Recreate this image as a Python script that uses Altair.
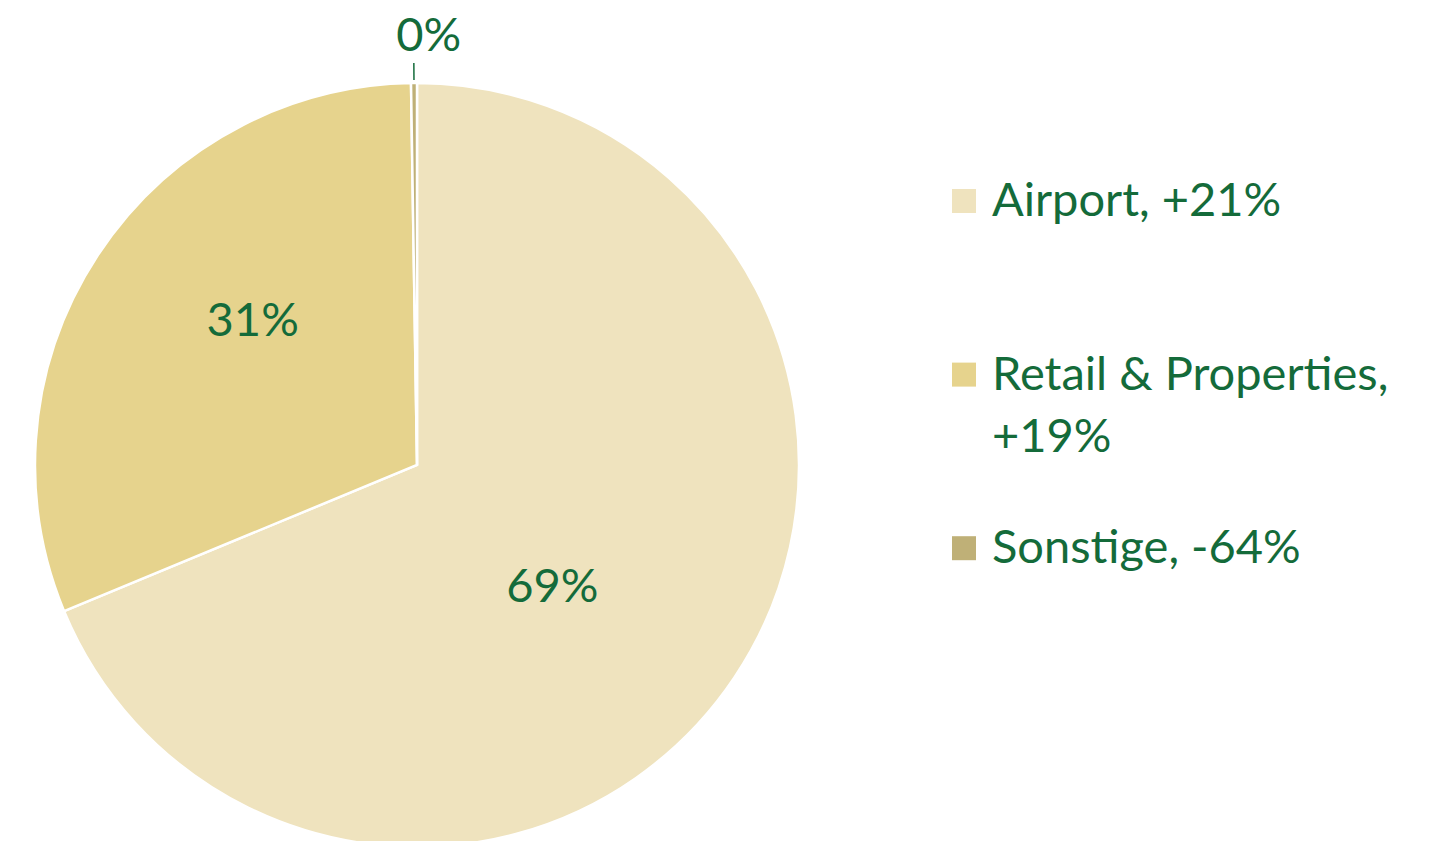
import altair as alt
import pandas as pd

# ---- data ----
categories = ["Airport", "Retail & Properties", "Sonstige"]
shares = [68.75, 31.0, 0.25]
slice_labels = ["69%", "31%", "0%"]
slice_order = [0, 1, 2]
colors = ["#EFE3BE", "#E6D38D", "#BFB077"]

legend_lines = ["Airport, +21%", "Retail & Proper\u200cties,", "+19%", "Sonstige, -64%"]
legend_line_pos = [0.0, 2.8, 3.8, 5.6]
legend_line_cat = ["Airport", "Retail & Properties", "", "Sonstige"]

GREEN = "#146B3A"
FONT = "Lato"
FS = 47

pie_df = pd.DataFrame({"category": categories, "share": shares,
                       "label": slice_labels, "order": slice_order})
leg_df = pd.DataFrame({"text": legend_lines, "line": legend_line_pos,
                       "category": legend_line_cat})

W, H = 1425, 833
CX, CY, R = 409, 457, 382

color_scale = alt.Scale(domain=categories, range=colors)

base = (
    alt.Chart(pie_df)
    .transform_joinaggregate(total="sum(share)")
    .transform_window(cum="sum(share)", sort=[alt.SortField("order")], frame=[None, 0])
    .transform_calculate(
        t0="2*PI*(datum.cum-datum.share)/datum.total",
        t1="2*PI*datum.cum/datum.total",
        tm="PI*(2*datum.cum-datum.share)/datum.total",
    )
)

arcs = base.mark_arc(outerRadius=R, stroke="white", strokeWidth=2.5).encode(
    theta=alt.Theta("t0:Q", scale=None),
    theta2="t1:Q",
    color=alt.Color("category:N", scale=color_scale, legend=None),
    x=alt.value(CX),
    y=alt.value(CY),
)

leader = (
    base.transform_filter(alt.datum.category == "Sonstige")
    .mark_arc(radius=385, radius2=402, stroke=GREEN, strokeWidth=1.5, fillOpacity=0)
    .encode(
        theta=alt.Theta("tm:Q", scale=None),
        theta2="tm:Q",
        x=alt.value(CX),
        y=alt.value(CY),
    )
)


def slice_text(cat, radius, shift, dx=0, dy=0):
    return (
        base.transform_filter(alt.datum.category == cat)
        .transform_calculate(tl=f"datum.tm + {shift}")
        .mark_text(font=FONT, fontSize=FS, color=GREEN, radius=radius,
                   align="center", baseline="middle", dx=dx, dy=dy)
        .encode(
            theta=alt.Theta("tl:Q", scale=None),
            text="label:N",
            x=alt.value(CX),
            y=alt.value(CY),
        )
    )


t_air = slice_text("Airport", 183, 0.149)
t_ret = slice_text("Retail & Properties", 218, 0.136)
t_son = slice_text("Sonstige", 428, 0.0, dx=15)

Y0 = 193  # chart-pixel position of the first legend line
yscale = alt.Scale(domain=[-Y0 / 62, (H - Y0) / 62], reverse=True, nice=False, zero=False)

leg_sym = (
    alt.Chart(leg_df)
    .transform_filter(alt.datum.category != "")
    .mark_square(size=576, opacity=1)
    .encode(
        x=alt.value(956),
        y=alt.Y("line:Q", scale=yscale, axis=None),
        color=alt.Color("category:N", scale=color_scale, legend=None),
    )
)

leg_txt = (
    alt.Chart(leg_df)
    .mark_text(font=FONT, fontSize=FS, color=GREEN, align="left", baseline="middle", dy=1)
    .encode(
        x=alt.value(984),
        y=alt.Y("line:Q", scale=yscale, axis=None),
        text="text:N",
    )
)

chart = (
    alt.layer(arcs, leader, t_air, t_ret, t_son, leg_sym, leg_txt)
    .properties(width=W, height=H, autosize=alt.AutoSizeParams(type="none"), padding=0,
                background="white")
    .configure_view(stroke=None)
)

chart.save("out.html", embed_options={"renderer": "svg", "actions": False})
